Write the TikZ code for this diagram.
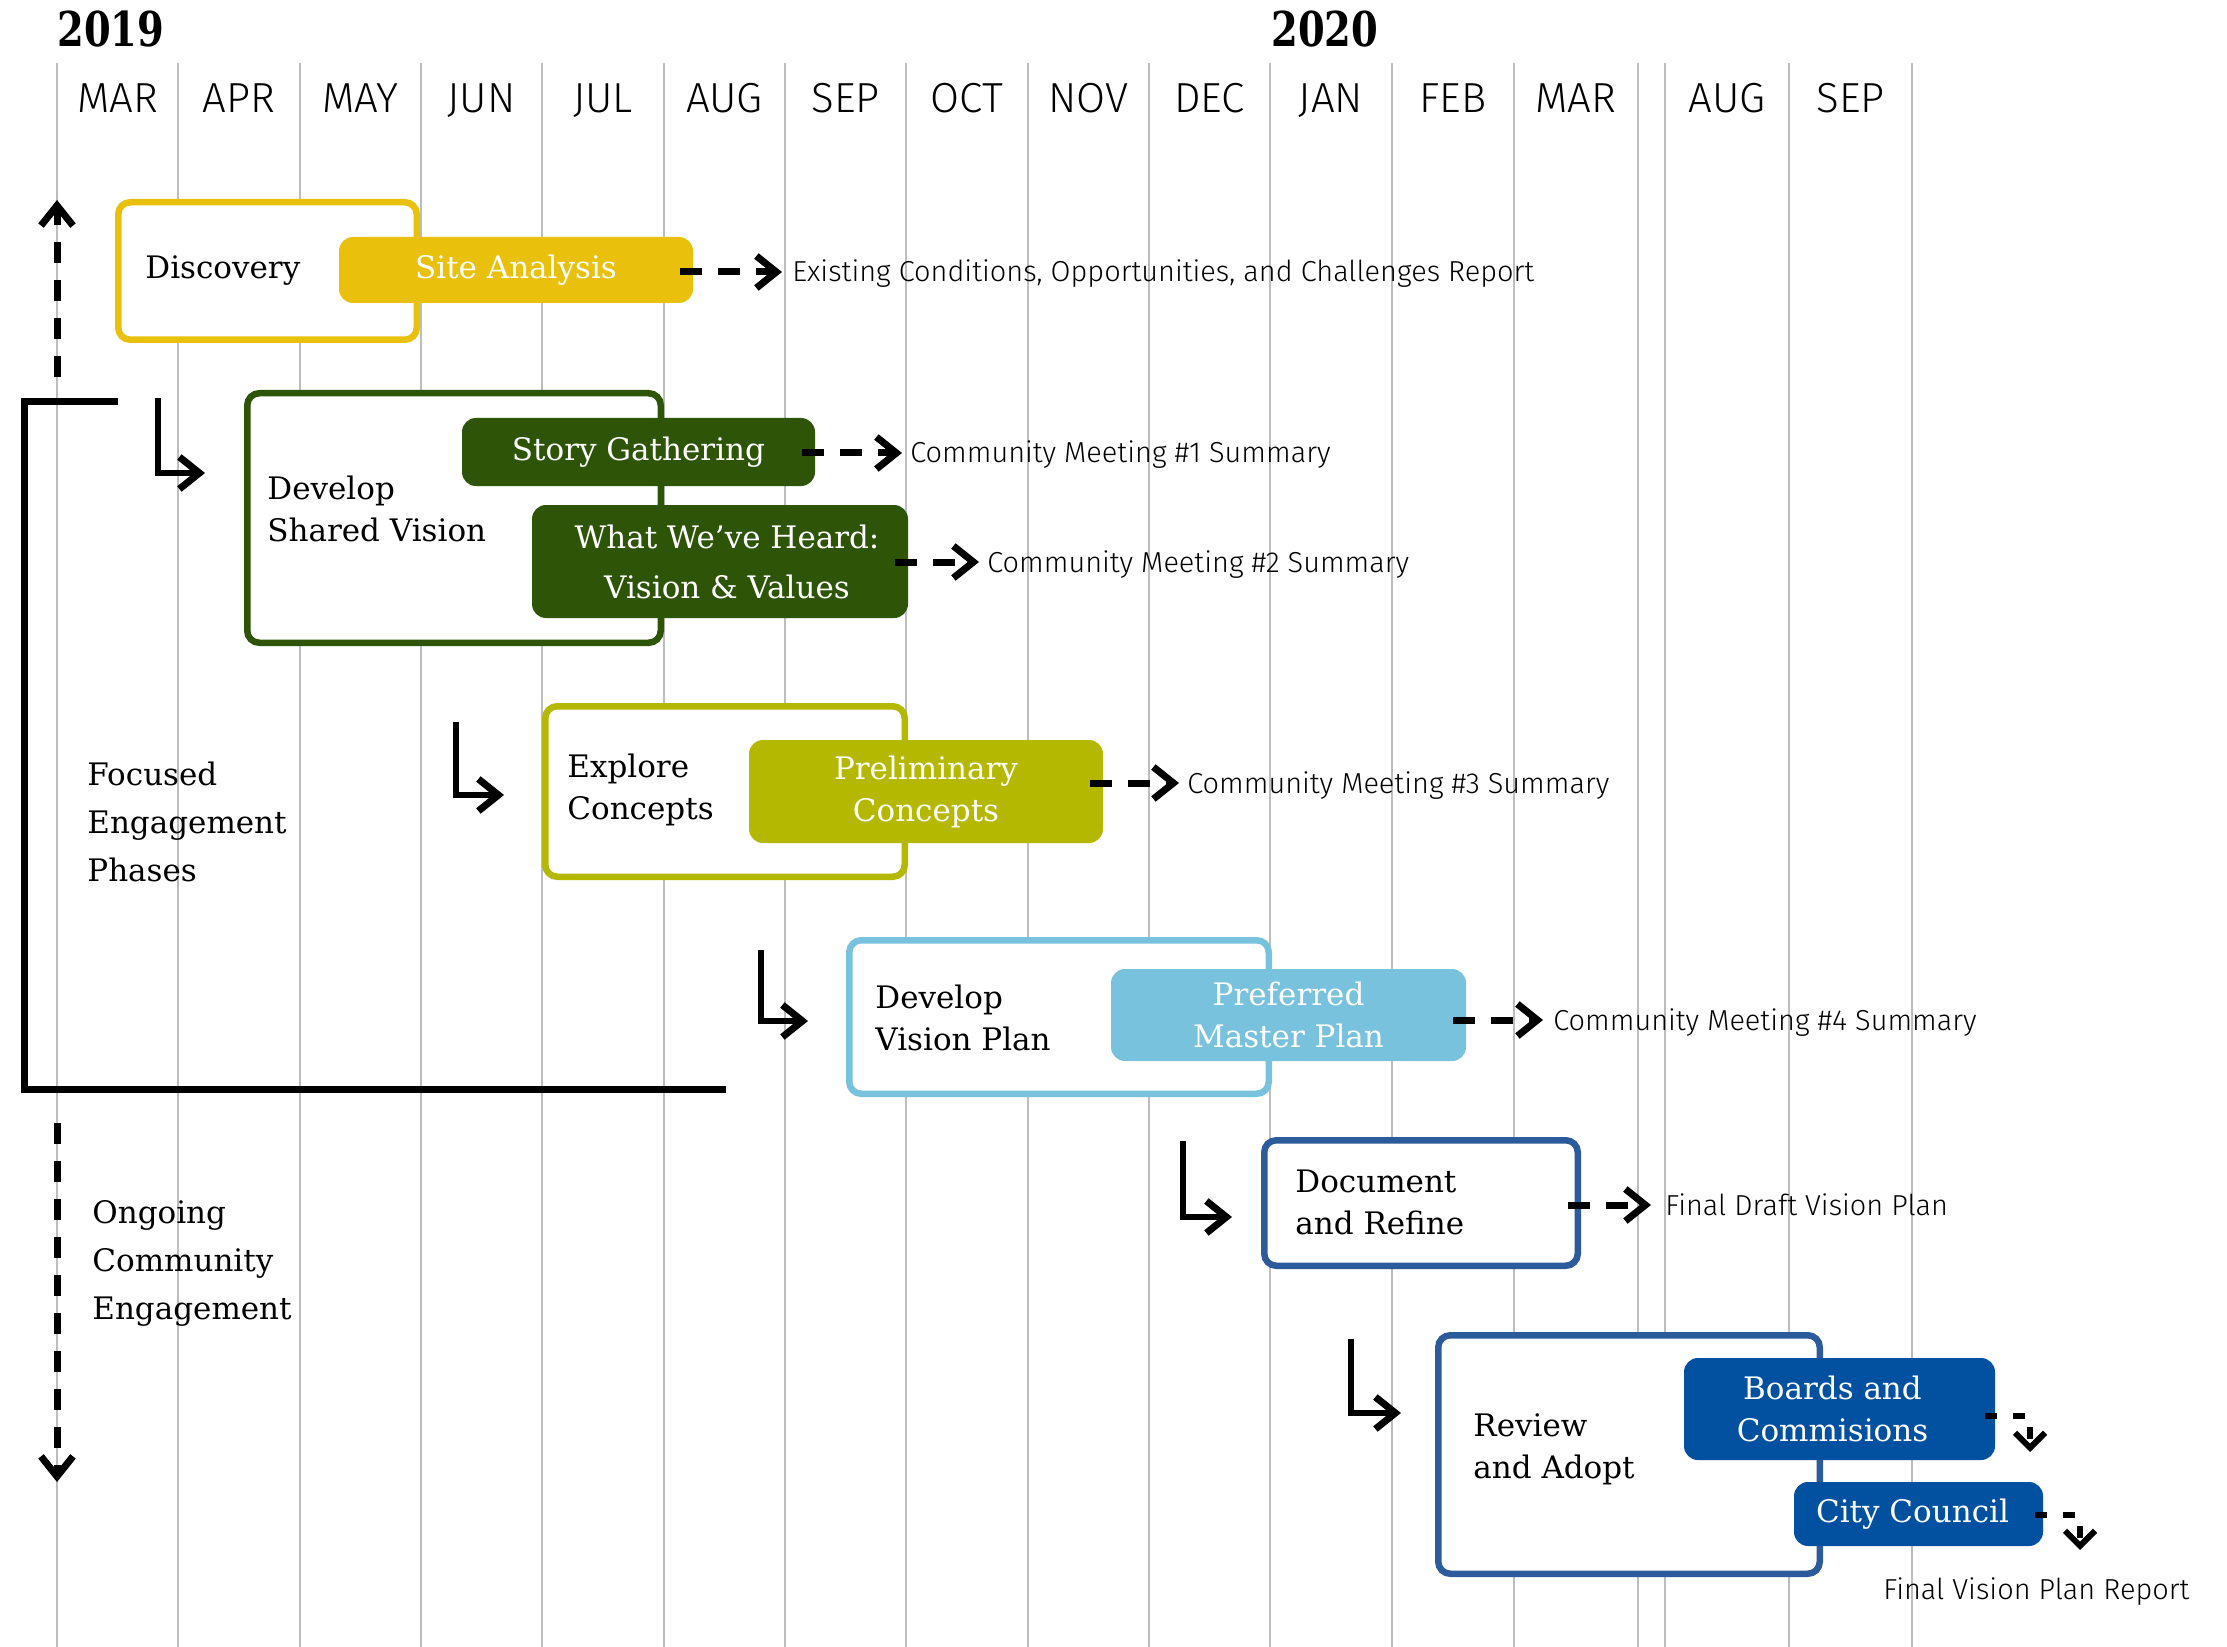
\documentclass[tikz,border=0pt]{standalone}
\usepackage{fontspec}
\setmainfont{DejaVu Serif}
\IfFontExistsTF{Fira Sans Light}{\newfontfamily\sansf{Fira Sans Light}}{\newfontfamily\sansf{Fira Sans}}
\newfontfamily\yearf[FakeStretch=0.8]{DejaVu Serif}
\usetikzlibrary{arrows.meta,calc}
\definecolor{cGold}{HTML}{E9C00B}
\definecolor{cDkgreen}{HTML}{2E5507}
\definecolor{cOlive}{HTML}{B4B800}
\definecolor{cLtblue}{HTML}{78C2DD}
\definecolor{cMedblue}{HTML}{2C5B9B}
\definecolor{cNavy}{HTML}{0151A0}
\definecolor{cGrid}{HTML}{BDBDBD}
\tikzset{
  chev/.tip={Straight Barb[sharp,length=10pt,width=16pt,line width=3.5pt]},
  smallchev/.tip={Straight Barb[sharp,length=7.5pt,width=15pt,line width=3pt]},
  gridline/.style={draw=cGrid,line width=0.75pt},
  month/.style={font=\sansf\fontsize{21}{21}\selectfont,inner sep=0pt,anchor=base},
  yearlbl/.style={font=\yearf\bfseries\fontsize{24}{24}\selectfont,inner sep=0pt,anchor=base west},
  phase/.style={draw,line width=3.25pt,rounded corners=6pt,fill=white,inner sep=0pt},
  task/.style={rounded corners=7pt,text=white,align=center,inner sep=0pt,font=\fontsize{15.5}{21}\selectfont},
  lbl/.style={anchor=north west,align=left,inner sep=0pt,font=\fontsize{15.5}{21}\selectfont},
  sidelbl/.style={anchor=north west,align=left,inner sep=0pt,font=\fontsize{15.5}{24}\selectfont},
  deltext/.style={anchor=west,inner sep=0pt,text height=10pt,text depth=0pt,font=\sansf\fontsize{14.45}{18}\selectfont},
  deliv/.style={line width=3.5pt,dash pattern=on 11pt off 8pt,-chev},
  vdash/.style={line width=3.5pt,dash pattern=on 10.5pt off 8.5pt,-chev},
  elbow/.style={line width=3pt,-chev},
  smalldash/.style={line width=3pt,dash pattern=on 6pt off 8pt,-smallchev},
  bracket/.style={line width=3.5pt},
}
\begin{document}
\begin{tikzpicture}[x=0.5pt,y=-0.5pt]
\fill[white] (0,0) rectangle (2227,1647);
\useasboundingbox (0,0) rectangle (2227,1647);

% grid
\foreach \x in {57,178,300,421,542,664,785,906,1028,1149,1270,1392,1514,1638,1665,1789,1912}
  \draw[gridline] (\x,63) -- (\x,1647);

% months and years
\foreach \x/\m [count=\i] in {117.5/MAR,239/APR,360.5/MAY,481.5/JUN,603/JUL,724.5/AUG,845.5/SEP,967/OCT,1088.5/NOV,1209.5/DEC,1331/JAN,1453/FEB,1576/MAR,1727/AUG,1850.5/SEP}
  \node[month] (mon\i) at (\x,113) {\m};
\node[yearlbl] (y2019) at (57,47) {2019};
\node[yearlbl] (y2020) at (1271,47) {2020};

% bracket and ongoing engagement arrows
\coordinate (brA) at (118,402);
\coordinate (brB) at (24,402);
\coordinate (brC) at (24,1089);
\coordinate (brD) at (726,1089);
\draw[bracket] (brA) -- (brB) -- (brC) -- (brD);
\coordinate (upS) at (57,377);
\coordinate (upE) at (57,200);
\draw[vdash] (upS) -- (upE);
\coordinate (dnS) at (57,1123);
\coordinate (dnE) at (57,1482);
\draw[vdash] (dnS) -- (dnE);

\node[sidelbl] (focus) at (87,762) {Focused\\Engagement\\Phases};
\node[sidelbl] (ongoing) at (92,1200) {Ongoing\\Community\\Engagement};

% phase boxes
\node[phase,draw=cGold,minimum width=149.25pt,minimum height=68.75pt] (disc) at (267.5,271) {};
\node[phase,draw=cDkgreen,minimum width=206.75pt,minimum height=124.75pt] (dsv) at (454,518) {};
\node[phase,draw=cOlive,minimum width=179.75pt,minimum height=85.25pt] (exp) at (725,791.5) {};
\node[phase,draw=cLtblue,minimum width=209.75pt,minimum height=76.75pt] (dvp) at (1059,1017) {};
\node[phase,draw=cMedblue,minimum width=156.75pt,minimum height=62.75pt] (doc) at (1421,1203) {};
\node[phase,draw=cMedblue,minimum width=190.75pt,minimum height=119.25pt] (rev) at (1629,1454.5) {};

\node[lbl] (discl) at (145,255) {Discovery};
\node[lbl] (dsvl) at (267,476) {Develop\\Shared Vision};
\node[lbl] (expl) at (567,754) {Explore\\Concepts};
\node[lbl] (dvpl) at (875,985) {Develop\\Vision Plan};
\node[lbl] (docl) at (1295,1169) {Document\\and Refine};
\node[lbl] (revl) at (1473,1413) {Review\\and Adopt};

% task boxes
\node[task,fill=cGold,minimum width=177pt,minimum height=33pt] (sa) at (516,270) {Site Analysis};
\node[task,fill=cDkgreen,minimum width=176.5pt,minimum height=34pt] (sg) at (638.5,452) {Story Gathering};
\node[task,fill=cDkgreen,minimum width=188pt,minimum height=56.5pt,font=\fontsize{15.5}{25}\selectfont] (wwh) at (720,561.5) {\hspace*{7pt}What We’ve Heard:\\\hspace*{7pt}Vision \& Values};
\node[task,fill=cOlive,minimum width=177pt,minimum height=51.5pt] (pc) at (926,791.5) {Preliminary\\Concepts};
\node[task,fill=cLtblue,minimum width=177.5pt,minimum height=46pt] (pmp) at (1288.5,1015) {Preferred\\Master Plan};
\node[task,fill=cNavy,minimum width=155.5pt,minimum height=51pt] (bc) at (1839.5,1409) {Boards and\hspace*{7pt}\\Commisions\hspace*{7pt}};
\node[task,fill=cNavy,minimum width=124.5pt,minimum height=32pt] (cc) at (1918.5,1514) {City Council\hspace*{6pt}};

% deliverables
\node[deltext] (t1) at (792,272) {Existing Conditions, Opportunities, and Challenges Report};
\node[deltext] (t2) at (910,453) {Community Meeting \#1 Summary};
\node[deltext] (t3) at (987,562) {Community Meeting \#2 Summary};
\node[deltext] (t4) at (1187,783) {Community Meeting \#3 Summary};
\node[deltext] (t5) at (1553,1020) {Community Meeting \#4 Summary};
\node[deltext] (t6) at (1665,1205) {Final Draft Vision Plan};
\node[deltext] (t7) at (1883,1589) {Final Vision Plan Report};

\draw[deliv] ($(t1.west -| sa.east)+(-13,0)$) -- ($(t1.west)+(-10,0)$);
\draw[deliv] ($(t2.west -| sg.east)+(-13,0)$) -- ($(t2.west)+(-8,0)$);
\draw[deliv] ($(t3.west -| wwh.east)+(-13,0)$) -- ($(t3.west)+(-8,0)$);
\draw[deliv] ($(t4.west -| pc.east)+(-13,0)$) -- ($(t4.west)+(-8,0)$);
\draw[deliv] ($(t5.west -| pmp.east)+(-13,0)$) -- ($(t5.west)+(-10,0)$);
\draw[deliv] ($(t6.west -| doc.east)+(-13,0)$) -- ($(t6.west)+(-14,0)$);

\coordinate (bcEnd) at (2030,1452);
\draw[smalldash] ($(bc.east)+(-10,7)$) -| (bcEnd);
\coordinate (ccEnd) at (2080,1550);
\draw[smalldash] ($(cc.east)+(-8,1)$) -| (ccEnd);

% elbow arrows
\coordinate (e1a) at (158,398);  \coordinate (e1b) at (205,473);
\coordinate (e2a) at (456,722);  \coordinate (e2b) at (504,795);
\coordinate (e3a) at (761,950);  \coordinate (e3b) at (808,1021);
\coordinate (e4a) at (1183,1141); \coordinate (e4b) at (1232,1217);
\coordinate (e5a) at (1351,1339); \coordinate (e5b) at (1401,1413);
\draw[elbow] (e1a) |- (e1b);
\draw[elbow] (e2a) |- (e2b);
\draw[elbow] (e3a) |- (e3b);
\draw[elbow] (e4a) |- (e4b);
\draw[elbow] (e5a) |- (e5b);
\end{tikzpicture}
\end{document}
